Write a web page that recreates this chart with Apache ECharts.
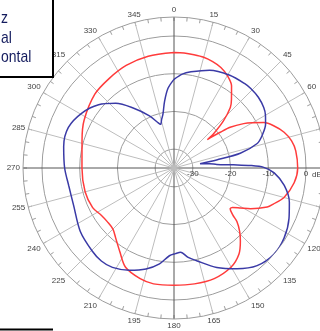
<!DOCTYPE html>
<html>
<head>
<meta charset="utf-8">
<style>
  html, body { margin: 0; padding: 0; background: #fff; }
  #chart { width: 320px; height: 331px; }
</style>
<script src="https://cdn.jsdelivr.net/npm/echarts@6.0.0/dist/echarts.min.js"></script>
</head>
<body>
<div id="chart"></div>
<script>
// pattern values in dB, angle in degrees (0 = up, clockwise)
const redAngle = [0, 5, 10, 15, 20, 25, 30, 35, 40, 43, 46.4, 49.2, 49.7, 50.6, 52.3, 54.1, 57.5, 60, 63.2, 67, 72, 77, 82, 90, 97, 105, 110, 112.7, 118, 121, 124, 126, 128.7, 130.4, 134, 137.8, 143, 150, 160, 170, 180, 190, 197, 206, 213, 220, 225, 231, 237, 244, 255, 270, 287, 298, 313, 324, 335, 347, 360]
const redDb = [-4.4, -4.4, -4.5, -4.6, -5.0, -5.6, -6.7, -8.4, -11.3, -13.1, -16.9, -21.2, -23.4, -22.0, -19.5, -16.6, -13.1, -11.0, -8.3, -6.3, -4.3, -3.0, -2.4, -2.2, -2.9, -4.8, -7.0, -8.2, -12.0, -14.4, -16.3, -16.6, -15.0, -13.1, -10.8, -8.8, -6.4, -4.7, -3.8, -3.8, -3.9, -3.8, -4.3, -5.7, -8.6, -10.9, -12.1, -12.3, -12.0, -11.0, -10.6, -10.6, -9.5, -8.0, -6.3, -5.7, -5.0, -4.6, -4.4]

const blueAngle = [0, 5, 10, 20, 31, 40, 44, 50, 56, 60, 64.5, 70, 73.6, 77.5, 79.3, 80.7, 83, 85.2, 86.9, 88.1, 89.6, 92.8, 99, 106.5, 113.7, 122.5, 130.8, 139.6, 148, 156.7, 166.3, 171, 175.5, 179, 183, 188.6, 195.5, 203.6, 211.8, 218, 224.6, 235.9, 249.6, 260.4, 270, 281, 291, 301, 310, 318, 325.5, 334.8, 340.4, 343, 345.5, 348.3, 352, 355.7, 360]
const blueDb = [-11.5, -10.0, -9.1, -7.4, -6.3, -5.8, -5.7, -5.8, -6.3, -7.0, -8.1, -10.2, -12.0, -17.0, -23.5, -28.0, -25.5, -23.6, -19.2, -14.7, -11.2, -8.4, -5.4, -3.1, -1.7, -0.4, 0, -1.0, -3.5, -6.3, -9.7, -11.0, -12.6, -12.3, -11.7, -9.3, -7.2, -5.4, -4.0, -3.7, -4.1, -5.0, -6.6, -6.7, -6.0, -5.2, -5.0, -6.6, -8.9, -11.9, -15.6, -19.7, -22.2, -22.9, -21.8, -20.5, -17.1, -13.8, -11.5]

const dbTicks = [-30, -20, -10, 0]
const legendLines = ['z', 'al', 'ontal']

const center = [174, 168]
const font = 'Liberation Sans, Arial, sans-serif'
const gridGray = '#9c9c9c'

const toPolar = (angles, values) => angles.map((a, i) => [values[i], a])

const chart = echarts.init(document.getElementById('chart'))

chart.setOption({
  animation: false,
  polar: [
    { center, radius: 151 },
    { center, radius: 132 },
    { center, radius: 132 },
  ],
  angleAxis: [
    {
      polarIndex: 0,
      type: 'value',
      min: 0,
      max: 360,
      interval: 15,
      startAngle: 90,
      clockwise: true,
      axisLine: { lineStyle: { color: gridGray, width: 1 } },
      axisTick: { show: true, inside: true, length: 4, lineStyle: { color: gridGray } },
      minorTick: { show: true, splitNumber: 3, length: 4, lineStyle: { color: gridGray } },
      axisLabel: {
        margin: 3,
        fontSize: 8,
        color: '#444',
        fontFamily: font,
        formatter: (v) => (v === 360 ? '' : String(v)),
      },
      splitLine: {
        show: true,
        lineStyle: { color: ['#555', '#bdbdbd', '#bdbdbd', '#bdbdbd', '#bdbdbd', '#bdbdbd'], width: 1 },
      },
    },
    { polarIndex: 1, type: 'value', min: 0, max: 360, startAngle: 0, show: false },
    { polarIndex: 2, type: 'value', min: 0, max: 360, startAngle: 90, clockwise: true, show: false },
  ],
  radiusAxis: [
    { polarIndex: 0, type: 'value', min: 0, max: 1, show: false },
    {
      polarIndex: 1,
      type: 'value',
      min: -35,
      max: 0,
      axisLine: { show: false },
      axisTick: { show: false, customValues: dbTicks },
      axisLabel: {
        customValues: dbTicks,
        margin: -2,
        align: 'center',
        verticalAlign: 'top',
        fontSize: 8,
        color: '#444',
        fontFamily: font,
      },
      splitLine: { show: true, lineStyle: { color: gridGray, width: 1 } },
      name: 'dB',
      nameLocation: 'end',
      nameGap: 3,
      nameTextStyle: { fontSize: 8, color: '#444', fontFamily: font, align: 'left', verticalAlign: 'top', padding: [3, 0, 0, 0] },
    },
    { polarIndex: 2, type: 'value', min: -35, max: 0, show: false },
  ],
  series: [
    {
      name: 'Vertical',
      type: 'line',
      coordinateSystem: 'polar',
      polarIndex: 2,
      data: toPolar(redAngle, redDb),
      showSymbol: false,
      smooth: 0.3,
      lineStyle: { color: '#ff3b3b', width: 1.5 },
      z: 5,
    },
    {
      name: 'Horizontal',
      type: 'line',
      coordinateSystem: 'polar',
      polarIndex: 2,
      data: toPolar(blueAngle, blueDb),
      showSymbol: false,
      smooth: 0.3,
      lineStyle: { color: '#3a3aa6', width: 1.5 },
      z: 6,
    },
  ],
  graphic: [
    {
      type: 'rect',
      shape: { x: -20, y: -20, width: 73, height: 97 },
      style: { fill: '#fff', stroke: '#000', lineWidth: 2 },
      z: 20,
    },
    ...legendLines.map((text, i) => ({
      type: 'text',
      x: 1,
      y: 18.5 + i * 19.5,
      scaleX: 0.82,
      style: { text, font: '17px ' + font, fill: '#141c5e', verticalAlign: 'middle' },
      z: 21,
    })),
    {
      type: 'line',
      shape: { x1: 0, y1: 329.5, x2: 53, y2: 329.5 },
      style: { stroke: '#000', lineWidth: 2 },
      z: 20,
    },
  ],
})
</script>
</body>
</html>
